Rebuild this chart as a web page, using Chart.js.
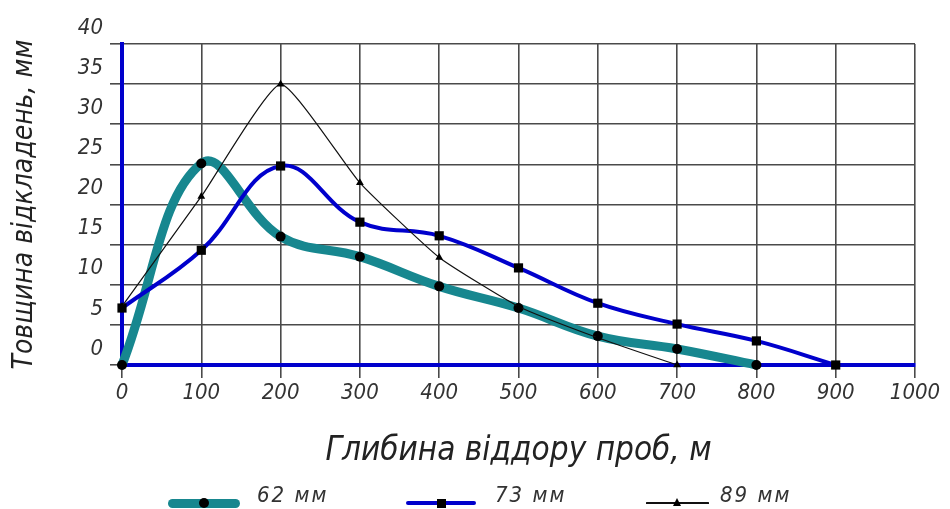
<!DOCTYPE html>
<html>
<head>
<meta charset="utf-8">
<script src="https://cdn.jsdelivr.net/npm/chart.js@4/dist/chart.umd.min.js"></script>
<style>
  html, body { margin: 0; padding: 0; background: #fff; overflow: hidden; }
  #wrap { position: relative; width: 950px; height: 509px; }
  #c { position: absolute; left: 0; top: 0; }
  .lg-bar { position: absolute; }
  .lg-mark { position: absolute; background: #000; }
  .lg-text { position: absolute; white-space: nowrap; color: #333; font-style: italic;
             font-family: 'Liberation Sans Narrow', 'DejaVu Sans Condensed', sans-serif;
             font-size: 22px; letter-spacing: 2px; line-height: 22px; }
</style>
</head>
<body>
<div id="wrap">
  <canvas id="c" width="950" height="509"></canvas>
  <div id="legend"></div>
</div>
<script>
// ---- data ----
const depth62 = [0, 100, 200, 300, 400, 500, 600, 700, 800];
const thick62 = [0, 25.1, 16.0, 13.5, 9.8, 7.1, 3.6, 2.0, 0];

const depth73 = [0, 100, 200, 300, 400, 500, 600, 700, 800, 900];
const thick73 = [7.1, 14.3, 24.8, 17.8, 16.1, 12.1, 7.7, 5.1, 3.0, 0];

const depth89 = [0, 100, 200, 300, 400, 500, 600, 700];
const thick89 = [7.3, 21.0, 35.0, 22.7, 13.4, 7.3, 3.4, 0];

const seriesNames = ['62 мм', '73 мм', '89 мм'];
const xTitle = 'Глибина віддору проб, м';
const yTitle = 'Товщина відкладень, мм';
const xTicks = [0, 100, 200, 300, 400, 500, 600, 700, 800, 900, 1000];
const yTicks = [0, 5, 10, 15, 20, 25, 30, 35, 40];

// ---- styling ----
const FONT = "'Liberation Sans Narrow', 'DejaVu Sans Condensed', sans-serif";
const TEAL = '#17878f';
const BLUE = '#0000cc';
const GRID = '#4a4a4a';

function pts(xs, ys) { return xs.map((x, i) => ({ x: x, y: ys[i] })); }

const chart = new Chart(document.getElementById('c'), {
  type: 'line',
  data: {
    datasets: [
      {
        label: seriesNames[0], data: pts(depth62, thick62),
        borderColor: TEAL, borderWidth: 9, tension: 0.4,
        borderCapStyle: 'round', borderJoinStyle: 'round',
        pointStyle: 'circle', pointRadius: 5, pointBackgroundColor: '#000',
        pointBorderColor: '#000', pointBorderWidth: 0, order: 3, clip: 12
      },
      {
        label: seriesNames[1], data: pts(depth73, thick73),
        borderColor: BLUE, borderWidth: 4, tension: 0.4,
        borderCapStyle: 'round', borderJoinStyle: 'round',
        pointStyle: 'rect', pointRadius: 6.5, pointBackgroundColor: '#000',
        pointBorderColor: '#000', pointBorderWidth: 0, order: 2, clip: 12
      },
      {
        label: seriesNames[2], data: pts(depth89, thick89),
        borderColor: '#111', borderWidth: 1.2, tension: 0.15,
        pointStyle: 'triangle', pointRadius: 4.5, pointBackgroundColor: '#000',
        pointBorderColor: '#000', pointBorderWidth: 0, order: 1, clip: 12
      }
    ]
  },
  options: {
    responsive: false,
    animation: false,
    events: [],
    layout: { padding: { left: 0, right: 35, top: 44, bottom: 34 } },
    plugins: {
      legend: { display: false },
      tooltip: { enabled: false },
      title: { display: false }
    },
    scales: {
      x: {
        type: 'linear', min: xTicks[0], max: xTicks[xTicks.length - 1],
        afterBuildTicks: (s) => { s.ticks = xTicks.map(v => ({ value: v })); },
        afterFit: (s) => { s.height = 110; },
        grid: { color: GRID, lineWidth: 1.6, tickLength: 13, drawTicks: true },
        border: { color: BLUE, width: 4 },
        ticks: {
          color: '#333', padding: 2, maxRotation: 0, autoSkip: false,
          callback: (v) => String(v),
          font: { family: FONT, size: 22, style: 'italic' }
        },
        title: {
          display: true, text: xTitle, color: '#222',
          font: { family: FONT, size: 33, style: 'italic' },
          padding: { top: 0, bottom: 4 }
        }
      },
      y: {
        type: 'linear', min: yTicks[0], max: yTicks[yTicks.length - 1],
        afterBuildTicks: (s) => { s.ticks = yTicks.map(v => ({ value: v })); },
        afterFit: (s) => { s.width = 122; },
        grid: { color: GRID, lineWidth: 1.6, tickLength: 12, drawTicks: true },
        border: { color: BLUE, width: 4 },
        ticks: {
          color: '#333', padding: 7, labelOffset: -16, autoSkip: false,
          callback: (v) => String(v),
          font: { family: FONT, size: 22, style: 'italic' }
        },
        title: {
          display: true, text: yTitle, color: '#222',
          font: { family: FONT, size: 28, style: 'italic' },
          padding: { top: 8, bottom: 0 }
        }
      }
    }
  }
});

// ---- HTML legend built from the chart's datasets ----
(function buildLegend() {
  const pos = [
    { bar: 168, len: 72, text: 257 },
    { bar: 406, len: 70, text: 495 },
    { bar: 646, len: 63, text: 720 }
  ];
  const lineY = 503, textY = 495;
  const box = document.getElementById('legend');
  chart.data.datasets.forEach((ds, i) => {
    const p = pos[i];
    const bw = ds.borderWidth;
    const bar = document.createElement('div');
    bar.className = 'lg-bar';
    bar.style.left = p.bar + 'px';
    bar.style.width = p.len + 'px';
    bar.style.height = bw + 'px';
    bar.style.top = (lineY - bw / 2) + 'px';
    bar.style.background = ds.borderColor;
    bar.style.borderRadius = (bw / 2) + 'px';
    box.appendChild(bar);

    const mark = document.createElement('div');
    mark.className = 'lg-mark';
    const cx = p.bar + p.len / 2;
    if (ds.pointStyle === 'circle') {
      mark.style.width = mark.style.height = '10px';
      mark.style.borderRadius = '50%';
      mark.style.left = (cx - 5) + 'px'; mark.style.top = (lineY - 5) + 'px';
    } else if (ds.pointStyle === 'rect') {
      mark.style.width = mark.style.height = '9px';
      mark.style.left = (cx - 4.5) + 'px'; mark.style.top = (lineY - 4.5) + 'px';
    } else {
      mark.style.width = '0'; mark.style.height = '0';
      mark.style.background = 'transparent';
      mark.style.borderLeft = '4.5px solid transparent';
      mark.style.borderRight = '4.5px solid transparent';
      mark.style.borderBottom = '8px solid #000';
      mark.style.left = (cx - 4.5) + 'px'; mark.style.top = (lineY - 5) + 'px';
    }
    box.appendChild(mark);

    const t = document.createElement('div');
    t.className = 'lg-text';
    t.textContent = ds.label;
    t.style.left = p.text + 'px';
    t.style.top = (textY - 11) + 'px';
    box.appendChild(t);
  });
})();
</script>
</body>
</html>
